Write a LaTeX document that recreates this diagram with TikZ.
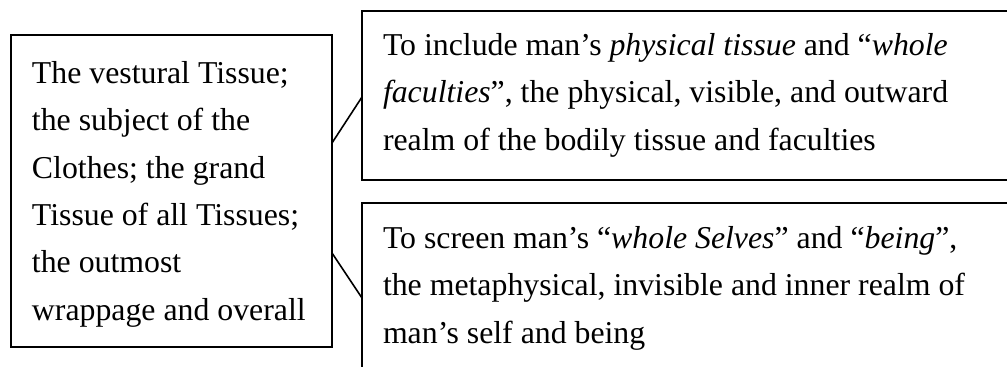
\documentclass[tikz,border=0pt]{standalone}
\usepackage{fontspec}
\setmainfont{Liberation Serif}
\usetikzlibrary{calc}
\tikzset{
  frame/.style={draw=black, line width=1pt, rectangle, inner sep=0pt, outer sep=0pt, fill=none},
  txt/.style={anchor=north west, inner sep=0pt, outer sep=0pt, align=left,
              font={\fontsize{15.9pt}{23.7pt}\selectfont}},
  link/.style={draw=black, line width=0.8pt}
}
\begin{document}
\begin{tikzpicture}[x=0.5pt, y=-0.5pt]
\useasboundingbox (0,0) rectangle (1007,367);
\clip (0,0) rectangle (1007,367);
\fill[white] (0,0) rectangle (1007,367);
% boxes
\node[frame, anchor=north west, minimum width=160.5pt, minimum height=156pt] (L) at (11,35) {};
\node[frame, anchor=north west, minimum width=335pt, minimum height=84.5pt] (A) at (362,11) {};
\node[frame, anchor=north west, minimum width=335pt, minimum height=100pt] (B) at (362,203) {};
% texts
\node[txt] (Lt) at ($(L.north west)+(21,26.2)$) {The vestural Tissue;\\ the subject of the\\ Clothes; the grand\\ Tissue of all Tissues;\\ the outmost\\ wrappage and overall};
\node[txt] (At) at ($(A.north west)+(21,22.2)$) {To include man's \textit{physical tissue} and ``\textit{whole}\\ \textit{faculties}'', the physical, visible, and outward\\ realm of the bodily tissue and faculties};
\node[txt] (Bt) at ($(B.north west)+(21,23.2)$) {To screen man's ``\textit{whole Selves}'' and ``\textit{being}'',\\ the metaphysical, invisible and inner realm of\\ man's self and being};
% connectors
\draw[link] ($(L.north east)+(0,108)$) -- ($(A.north west)+(0,86)$);
\draw[link] ($(L.north east)+(0,218)$) -- ($(B.north west)+(0,95)$);
\end{tikzpicture}
\end{document}
